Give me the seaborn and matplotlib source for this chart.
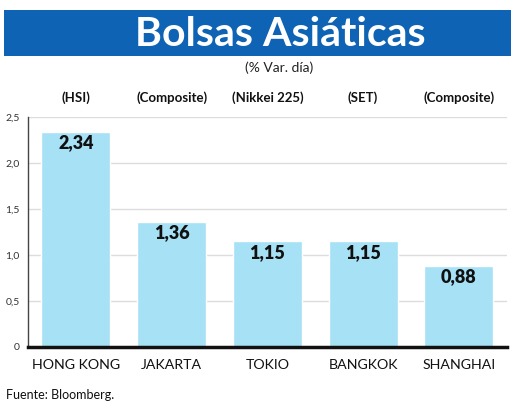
import numpy as np
import pandas as pd
import matplotlib
matplotlib.use('Agg')
import matplotlib.pyplot as plt
import matplotlib.transforms as mtransforms
from matplotlib.patches import Rectangle
import seaborn as sns

cities = ['HONG KONG', 'JAKARTA', 'TOKIO', 'BANGKOK', 'SHANGHAI']
indices = ['(HSI)', '(Composite)', '(Nikkei 225)', '(SET)', '(Composite)']
changes = [2.34, 1.36, 1.15, 1.15, 0.88]
y_ticks = [0, 0.5, 1.0, 1.5, 2.0, 2.5]
y_tick_labels = ['0', '0,5', '1,0', '1,5', '2,0', '2,5']

bar_color = '#a6e1f6'
banner_color = '#0e63b4'

sns.set_style('white')
plt.rcParams['font.family'] = ['Lato', 'DejaVu Sans']

df = pd.DataFrame({'city': cities, 'change': changes})

fig = plt.figure(figsize=(5.2, 4.09), dpi=100)
ax = fig.add_axes([0.0538, 0.1523, 0.9206, 0.5617])

# banner
fig.patches.append(Rectangle((4 / 520, 1 - 56 / 409), 507 / 520, 46 / 409,
                             transform=fig.transFigure, facecolor=banner_color,
                             edgecolor='none', zorder=0))
fig.text(0.54, 1 - 34 / 409, 'Bolsas Asiáticas', color='white', fontsize=29.5,
         fontweight='bold', ha='center', va='center')
fig.text(0.537, 1 - 68 / 409, '(% Var. día)', color='#222222', fontsize=10,
         ha='center', va='center')

sns.barplot(data=df, x='city', y='change', color=bar_color, saturation=1,
            width=0.72, ax=ax, zorder=2)

ax.set_xlim(-0.5, 4.5)
ax.set_ylim(0, 2.5)
ax.set_yticks(y_ticks)
ax.set_yticklabels(y_tick_labels, fontsize=7.5, color='#333333')
ax.yaxis.grid(True, color='#dcdcdc', linewidth=1, zorder=0)
ax.set_axisbelow(True)
ax.set_xlabel('')
ax.set_ylabel('')

ax.tick_params(axis='y', length=0, pad=6)
ax.tick_params(axis='x', which='major', length=0, pad=9, labelsize=10.2, labelcolor='#111111')
ax.set_xticks(np.arange(0.5, 4.6, 1.0), minor=True)
ax.tick_params(axis='x', which='minor', direction='in', length=4, width=2, color='#111111')

for side in ['top', 'right']:
    ax.spines[side].set_visible(False)
ax.spines['left'].set_color('#444444')
ax.spines['left'].set_linewidth(1)
ax.spines['bottom'].set_color('#111111')
ax.spines['bottom'].set_linewidth(2.5)

# value labels inside bars
for i, v in enumerate(changes):
    ax.annotate(f'{v:.2f}'.replace('.', ','), xy=(i, v), xytext=(0, -8),
                textcoords='offset points', ha='center', va='center',
                fontsize=13, fontweight='heavy', color='#111111')

# index names above chart
trans = mtransforms.blended_transform_factory(ax.transData, ax.transAxes)
for i, name in enumerate(indices):
    ax.text(i, 1.083, name, transform=trans, ha='center', va='center',
            fontsize=9.5, fontweight='bold', color='#111111')

fig.text(6 / 520, 1 - 395 / 409, 'Fuente: Bloomberg.', fontsize=9,
         color='#111111', ha='left', va='center')

fig.savefig('out.png', dpi=100)
